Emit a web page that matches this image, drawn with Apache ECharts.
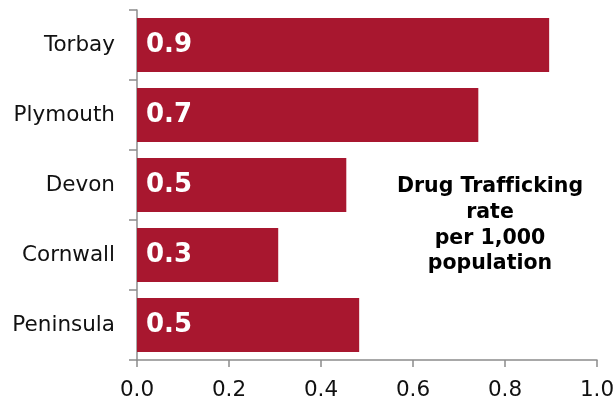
<!DOCTYPE html>
<html>
<head>
<meta charset="utf-8">
<script src="https://cdn.jsdelivr.net/npm/echarts@6/dist/echarts.min.js"></script>
<style>
html,body{margin:0;padding:0;background:#fff;}
#chart{width:616px;height:399px;}
</style>
</head>
<body>
<div id="chart"></div>
<script>
const categories = ["Peninsula", "Cornwall", "Devon", "Plymouth", "Torbay"];
const values = [0.483, 0.307, 0.455, 0.742, 0.896];
const xTicks = [0.0, 0.2, 0.4, 0.6, 0.8, 1.0];
const noteLines = ["Drug Traf\u200Cf\u200Cicking", "rate", "per 1,000", "population"];

const FONT = "DejaVu Sans";
const chart = echarts.init(document.getElementById('chart'));
chart.setOption({
  animation: false,
  backgroundColor: '#ffffff',
  grid: { left: 137, right: 19, top: 10, bottom: 39, containLabel: false, outerBoundsMode: 'none' },
  xAxis: {
    type: 'value',
    min: xTicks[0],
    max: xTicks[xTicks.length - 1],
    interval: 0.2,
    axisLine: { show: true, lineStyle: { color: '#8c8c8c', width: 1.5 } },
    axisTick: { show: true, length: 7, lineStyle: { color: '#8c8c8c', width: 1.5 } },
    splitLine: { show: false },
    axisLabel: {
      fontFamily: FONT, fontSize: 21.5, color: '#111', margin: 19,
      formatter: v => v.toFixed(1)
    }
  },
  yAxis: {
    type: 'category',
    data: categories,
    axisLine: { show: true, lineStyle: { color: '#8c8c8c', width: 1.5 } },
    axisTick: { show: true, length: 8, lineStyle: { color: '#8c8c8c', width: 1.5 } },
    axisLabel: { fontFamily: FONT, fontSize: 21.5, color: '#111', margin: 22 }
  },
  series: [{
    type: 'bar',
    data: values,
    barCategoryGap: '23%',
    itemStyle: { color: '#A8172F' },
    label: {
      show: true,
      position: 'insideLeft',
      distance: 9,
      formatter: p => p.value.toFixed(1),
      fontFamily: FONT, fontWeight: 'bold', fontSize: 26, color: '#ffffff'
    }
  }],
  graphic: [{
    type: 'text',
    x: 490,
    y: 225.5,
    style: {
      text: noteLines.join('\n'),
      textAlign: 'center',
      textVerticalAlign: 'middle',
      fontFamily: FONT, fontWeight: 'bold', fontSize: 20.5, lineHeight: 25.7,
      fill: '#000'
    }
  }]
});
</script>
</body>
</html>
